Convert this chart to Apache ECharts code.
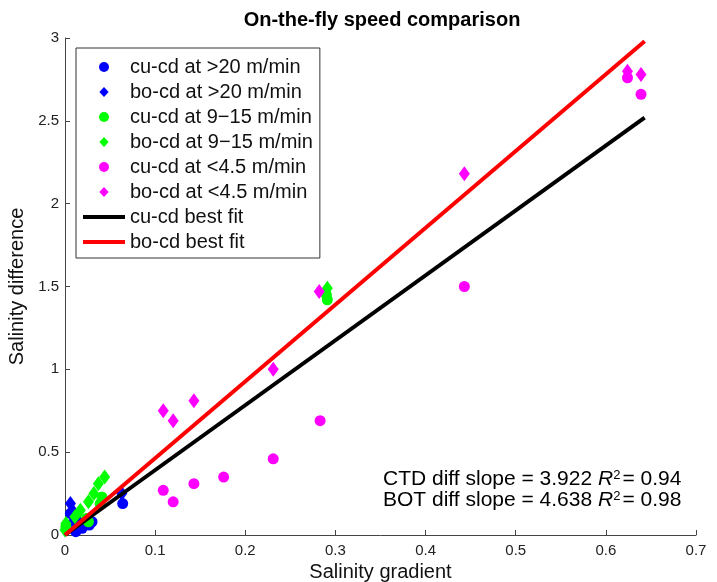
<!DOCTYPE html>
<html>
<head>
<meta charset="utf-8">
<script src="https://cdn.jsdelivr.net/npm/echarts@6/dist/echarts.min.js"></script>
<style>html,body{margin:0;padding:0;background:#fff;}#c{width:717px;height:582px;}</style>
</head>
<body>
<div id="c"></div>
<script>
// ---- data ----
var xTicks = [0, 0.7, 0.1];
var yTicks = [0, 3, 0.5];
var seriesNames = ['cu-cd at >20 m/min','bo-cd at >20 m/min','cu-cd at 9\u221215 m/min','bo-cd at 9\u221215 m/min','cu-cd at <4.5 m/min','bo-cd at <4.5 m/min','cu-cd best fit','bo-cd best fit'];
var cuFast = [[0.006,0.13],[0.009,0.04],[0.012,0.02],[0.019,0.04],[0.030,0.08],[0.027,0.06],[0.064,0.19],[0.010,0.08]];
var boFast = [[0.006,0.19],[0.008,0.15],[0.014,0.09],[0.010,0.12],[0.063,0.25],[0.020,0.07]];
var cuMid = [[0.001,0.05],[0.024,0.10],[0.026,0.08],[0.039,0.19],[0.041,0.23],[0.291,1.42],[0.290,1.45]];
var boMid = [[0.000,0.03],[0.001,0.07],[0.011,0.11],[0.017,0.15],[0.026,0.20],[0.032,0.25],[0.037,0.31],[0.044,0.35],[0.291,1.49]];
var cuSlow = [[0.109,0.27],[0.120,0.20],[0.143,0.31],[0.176,0.35],[0.231,0.46],[0.283,0.69],[0.443,1.50],[0.624,2.76],[0.639,2.66]];
var boSlow = [[0.109,0.75],[0.120,0.69],[0.143,0.81],[0.231,1.00],[0.282,1.47],[0.443,2.18],[0.624,2.80],[0.639,2.78]];
var cuFit = [[0,0],[0.643,2.52]];
var boFit = [[0,0],[0.643,2.98]];
var titleText = 'On-the-fly speed comparison';
var xName = 'Salinity gradient';
var yName = 'Salinity difference';
var note1 = ['CTD diff slope = 3.922 ', '= 0.94'];
var note2 = ['BOT diff slope = 4.638 ', '= 0.98'];

// ---- chart ----
var FONT = '"Liberation Sans", Arial, Helvetica, sans-serif';
var chart = echarts.init(document.getElementById('c'));
var DIAMOND_ICON = 'path://M0,-7L6.5,0L0,7L-6.5,0Z';
var LINE_ICON = 'path://M0,0H42V4H0Z';
function scat(name, data, color, diamond) {
  return {
    name: name, type: 'scatter', data: data,
    symbol: diamond ? 'diamond' : 'circle',
    symbolSize: diamond ? [11, 15] : 11,
    itemStyle: { color: color, opacity: 1 },
    z: 2
  };
}
function fit(name, data, color) {
  return {
    name: name, type: 'line', data: data, showSymbol: false, symbol: 'none',
    lineStyle: { color: color, width: 4 }, itemStyle: { color: color },
    z: 3, animation: false
  };
}
var noteRich = {
  a: { fontSize: 21, fontFamily: FONT, color: '#111' },
  i: { fontSize: 21, fontFamily: FONT, fontStyle: 'italic', color: '#111' },
  s: { fontSize: 13, fontFamily: FONT, color: '#111', verticalAlign: 'top', padding: [0, 2, 10, 0] }
};
chart.setOption({
  animation: false,
  backgroundColor: '#fff',
  textStyle: { fontFamily: FONT },
  grid: { left: 65, right: 21, top: 38, bottom: 47, containLabel: false, outerBoundsMode: 'none' },
  graphic: [
    { type: 'text', x: 382, y: 10,
      style: { text: titleText, fontSize: 20, fontWeight: 'bold', fontFamily: FONT, fill: '#000', align: 'center', verticalAlign: 'top' } },
    { type: 'text', left: 383, top: 469,
      style: { text: '{a|' + note1[0] + '}{i|R}{s|2}{a|' + note1[1] + '}\n{a|' + note2[0] + '}{i|R}{s|2}{a|' + note2[1] + '}',
               rich: noteRich, lineHeight: 21 } }
  ],
  legend: {
    orient: 'vertical', left: 76, top: 48,
    backgroundColor: '#fff', borderColor: '#333', borderWidth: 1,
    padding: [9, 7, 6, 7], itemGap: 5, itemWidth: 42, itemHeight: 10,
    textStyle: { fontSize: 20, fontFamily: FONT, color: '#111', lineHeight: 20 },
    data: seriesNames.map(function (n, i) {
      if (i < 6) return { name: n, icon: (i % 2 === 0) ? 'circle' : DIAMOND_ICON };
      return { name: n, icon: LINE_ICON };
    })
  },
  xAxis: {
    type: 'value', min: xTicks[0], max: xTicks[1], interval: xTicks[2],
    name: xName, nameLocation: 'middle', nameGap: 20,
    nameTextStyle: { fontSize: 20, color: '#111', fontFamily: FONT },
    axisLine: { show: true, lineStyle: { color: '#444', width: 1 } },
    axisTick: { show: true, inside: true, length: 5, lineStyle: { color: '#444' } },
    axisLabel: { fontSize: 15, color: '#222', margin: 8, fontFamily: FONT },
    splitLine: { show: false }
  },
  yAxis: {
    type: 'value', min: yTicks[0], max: yTicks[1], interval: yTicks[2],
    name: yName, nameLocation: 'middle', nameGap: 29,
    nameTextStyle: { fontSize: 20, color: '#111', fontFamily: FONT },
    axisLine: { show: true, lineStyle: { color: '#444', width: 1 } },
    axisTick: { show: true, inside: true, length: 5, lineStyle: { color: '#444' } },
    axisLabel: { fontSize: 15, color: '#222', margin: 6, fontFamily: FONT },
    splitLine: { show: false }
  },
  series: [
    scat(seriesNames[0], cuFast, '#0000ff', false),
    scat(seriesNames[1], boFast, '#0000ff', true),
    scat(seriesNames[2], cuMid, '#00ff00', false),
    scat(seriesNames[3], boMid, '#00ff00', true),
    scat(seriesNames[4], cuSlow, '#ff00ff', false),
    scat(seriesNames[5], boSlow, '#ff00ff', true),
    fit(seriesNames[6], cuFit, '#000000'),
    fit(seriesNames[7], boFit, '#ff0000')
  ]
});
</script>
</body>
</html>
